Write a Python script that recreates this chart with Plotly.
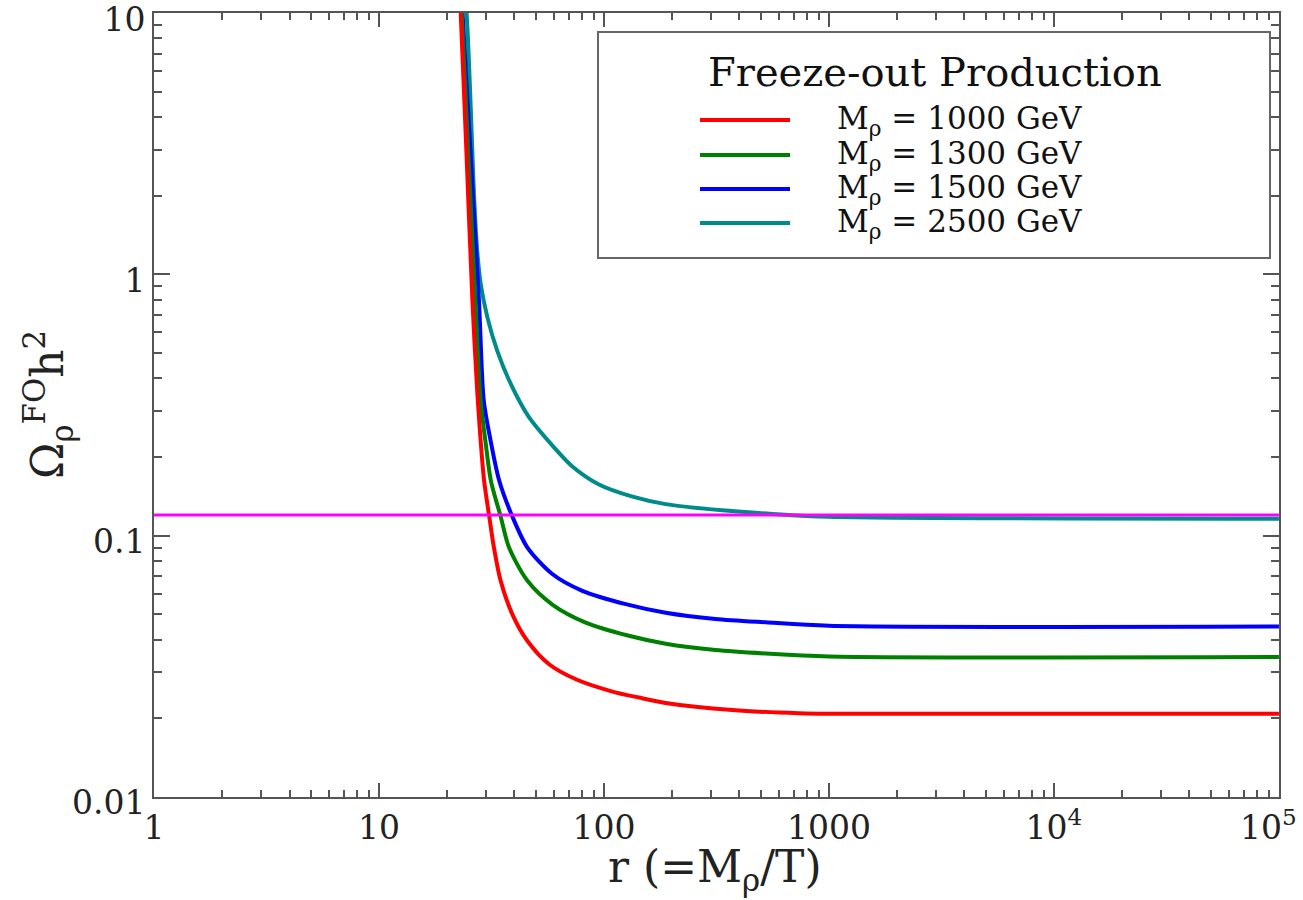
import plotly.graph_objects as go

# ---------------- data ----------------
r_1000 = [21.5, 23.07, 24.5, 26.0, 27.3, 28.3, 29.3, 31.05, 32.4, 34.7, 39.1, 45.6, 57, 75, 109, 143, 188, 372, 735, 1000, 100000]
om_1000 = [40, 10, 2.84, 0.795, 0.36, 0.23, 0.1625, 0.115, 0.0902, 0.0673, 0.0501, 0.0396, 0.0322, 0.0282, 0.0253, 0.0240, 0.0229, 0.0215, 0.0209, 0.0208, 0.0208]

r_1300 = [21.5, 23.3, 26.8, 28.3, 29.8, 31.4, 34.7, 37.8, 45.6, 58.9, 82.9, 129, 188, 313, 523, 1000, 100000]
om_1300 = [40, 10, 0.795, 0.329, 0.225, 0.1625, 0.1186, 0.0902, 0.0673, 0.0545, 0.0465, 0.0414, 0.0386, 0.0365, 0.0354, 0.0345, 0.0343]

r_1500 = [21.5, 23.5, 27.8, 29.2, 31.2, 34.2, 39.1, 45.6, 58.9, 80.1, 124.9, 188, 313, 523, 1000, 100000]
om_1500 = [40, 10, 0.795, 0.329, 0.235, 0.1625, 0.1186, 0.0902, 0.0713, 0.0615, 0.0547, 0.0507, 0.0480, 0.0466, 0.0452, 0.0449]

r_2500 = [22, 24.5, 26.5, 27.3, 28.3, 30.3, 33.5, 38.5, 46.4, 61, 72.3, 95, 134, 188, 336, 560, 1000, 100000]
om_2500 = [30, 10, 1.92, 1.236, 0.921, 0.686, 0.511, 0.381, 0.284, 0.214, 0.184, 0.157, 0.141, 0.132, 0.125, 0.121, 0.118, 0.116]

planck_r = [1, 100000]
planck_om = [0.12, 0.12]

series_names = ["M<sub>ρ</sub> = 1000 GeV", "M<sub>ρ</sub> = 1300 GeV",
                "M<sub>ρ</sub> = 1500 GeV", "M<sub>ρ</sub> = 2500 GeV"]
series_colors = ["#ff0000", "#008000", "#0000ff", "#008b8b"]
legend_title = "Freeze-out Production"

NB = "\u00a0"
x_tickvals = [1, 10, 100, 1000, 1e4, 1e5]
x_ticktext = ["1", "10", "100", "1000", "10<sup>4</sup>", "10<sup>5</sup>" + NB * 2]
y_tickvals = [0.01, 0.1, 1, 10]
y_ticktext = ["0.01", "0.1", "1", "10"]

FONT = "DejaVu Serif"
AX = "#555555"

fig = go.Figure()
series = [(r_2500, om_2500, 3), (r_1500, om_1500, 2), (r_1300, om_1300, 1), (r_1000, om_1000, 0)]
for rx, oy, i in series:
    fig.add_trace(go.Scatter(x=rx, y=oy, mode="lines", name=series_names[i],
                             line=dict(color=series_colors[i], width=4, shape="spline", smoothing=0.8),
                             showlegend=False))
fig.add_trace(go.Scatter(x=planck_r, y=planck_om, mode="lines",
                         line=dict(color="#ff00ff", width=3), showlegend=False))

minor_x = [m * 10 ** d for d in range(0, 5) for m in range(2, 10)]
minor_y = [m * 10 ** d for d in range(-2, 1) for m in range(2, 10)]

fig.update_xaxes(type="log", range=[-0.0003, 5.0003], tickmode="array", tickvals=x_tickvals, ticktext=x_ticktext,
                 showgrid=False, zeroline=False, showline=True, linecolor=AX, linewidth=2,
                 mirror="ticks", ticks="inside", ticklen=14, tickwidth=2, tickcolor=AX,
                 ticklabeloverflow="allow",
                 tickfont=dict(family=FONT, size=33, color="#222"),
                 minor=dict(tickmode="array", tickvals=minor_x, ticks="inside", ticklen=7,
                            tickwidth=1.5, tickcolor=AX, showgrid=False))
fig.update_yaxes(type="log", range=[-2.0003, 1.0003], tickmode="array", tickvals=y_tickvals, ticktext=y_ticktext,
                 showgrid=False, zeroline=False, showline=True, linecolor=AX, linewidth=2,
                 mirror="ticks", ticks="inside", ticklen=16, tickwidth=2, tickcolor=AX,
                 ticklabeloverflow="allow", ticklabelshift=6,
                 tickfont=dict(family=FONT, size=33, color="#222"),
                 minor=dict(tickmode="array", tickvals=minor_y, ticks="inside", ticklen=8,
                            tickwidth=1.5, tickcolor=AX, showgrid=False))

L, R, T, B = 154, 24, 13, 103
W, H = 1303, 900
pw, ph = W - L - R, H - T - B

def px(x):
    return (x - L) / pw

def py(y):
    return (H - B - y) / ph

shapes = [dict(type="rect", xref="paper", yref="paper", x0=px(598), x1=px(1270), y0=py(258), y1=py(32),
               line=dict(color="#666666", width=2), fillcolor="white", layer="above")]
annotations = [
    dict(text=legend_title, xref="paper", yref="paper", x=px(935), y=py(72), showarrow=False,
         font=dict(family=FONT, size=40, color="#111"), xanchor="center", yanchor="middle"),
    dict(text="r (=M<sub>ρ</sub>/T)", xref="paper", yref="paper", x=px(715), y=py(869), showarrow=False,
         font=dict(family=FONT, size=44, color="#222"), xanchor="center", yanchor="middle"),
    dict(text="Ω<sub>ρ</sub><sup>FO</sup>h<sup>2</sup>", xref="paper", yref="paper", x=px(48), y=py(405),
         showarrow=False, textangle=-90, font=dict(family=FONT, size=44, color="#222"),
         xanchor="center", yanchor="middle"),
]
entry_y = [120, 155, 189, 223]
for i in range(4):
    shapes.append(dict(type="line", xref="paper", yref="paper", x0=px(700), x1=px(790),
                       y0=py(entry_y[i]), y1=py(entry_y[i]),
                       line=dict(color=series_colors[i], width=4), layer="above"))
    annotations.append(dict(text=series_names[i], xref="paper", yref="paper", x=px(835), y=py(entry_y[i]),
                            showarrow=False, xanchor="left", yanchor="middle",
                            font=dict(family=FONT, size=31, color="#111")))

fig.update_layout(width=W, height=H, margin=dict(l=L, r=R, t=T, b=B, autoexpand=False),
                  plot_bgcolor="white", paper_bgcolor="white", showlegend=False,
                  shapes=shapes, annotations=annotations)

fig.write_html("out.html")
